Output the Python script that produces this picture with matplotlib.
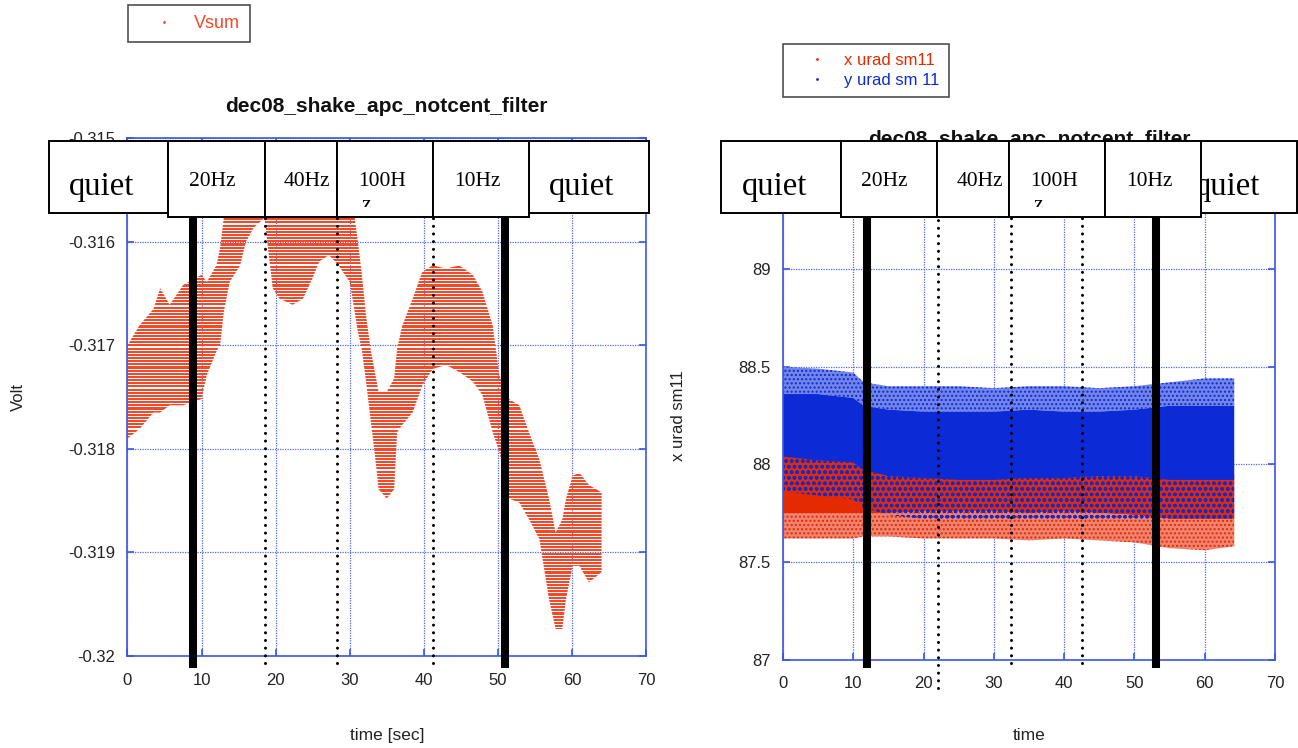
import numpy as np
import matplotlib
matplotlib.use("Agg")
import matplotlib.pyplot as plt
from matplotlib.patches import Rectangle, Polygon
from matplotlib.lines import Line2D
from matplotlib.colors import to_rgba
import matplotlib.transforms as mtransforms

# ---------------- data ----------------
title = "dec08_shake_apc_notcent_filter"

# left panel: Vsum band (upper / lower edge of the dense quantised band)
t_vsum = [0.0, 1.6, 3.5, 4.4, 5.7, 7.5, 10.0, 10.7, 12.0, 12.5, 13.0, 13.8, 15.2, 16.0,
          17.0, 18.5, 19.6, 20.5, 22.3, 23.7, 25.0, 25.9, 27.2, 28.5, 30.0, 31.1, 31.6,
          32.2, 32.8, 33.4, 33.9, 35.0, 36.0, 36.4, 37.1, 38.5, 39.8, 41.2, 43.0, 44.8,
          46.6, 47.9, 49.3, 50.2, 51.5, 52.9, 54.2, 55.6, 56.9, 57.8, 58.7, 59.2, 60.1,
          61.0, 62.3, 64.0]
vsum_upper = [-0.31700, -0.31681, -0.31665, -0.31645, -0.31661, -0.31642, -0.31632,
              -0.31639, -0.31623, -0.31606, -0.31577, -0.31540, -0.31540, -0.31540,
              -0.31540, -0.31540, -0.31540, -0.31540, -0.31540, -0.31540, -0.31540,
              -0.31540, -0.31540, -0.31540, -0.31540, -0.31600, -0.31629, -0.31671,
              -0.31703, -0.31726, -0.31745, -0.31745, -0.31732, -0.31703, -0.31681,
              -0.31655, -0.31629, -0.31623, -0.31626, -0.31623, -0.31632, -0.31648,
              -0.31681, -0.31729, -0.31752, -0.31758, -0.31784, -0.31810, -0.31848,
              -0.31881, -0.31868, -0.31848, -0.31826, -0.31823, -0.31835, -0.31842]
vsum_lower = [-0.31790, -0.31781, -0.31765, -0.31765, -0.31758, -0.31758, -0.31752,
              -0.31729, -0.31706, -0.31700, -0.31668, -0.31639, -0.31623, -0.31600,
              -0.31587, -0.31577, -0.31645, -0.31655, -0.31661, -0.31655, -0.31635,
              -0.31619, -0.31613, -0.31623, -0.31639, -0.31687, -0.31703, -0.31735,
              -0.31771, -0.31806, -0.31839, -0.31848, -0.31839, -0.31784, -0.31777,
              -0.31765, -0.31739, -0.31723, -0.31719, -0.31726, -0.31735, -0.31748,
              -0.31784, -0.31803, -0.31848, -0.31852, -0.31868, -0.31887, -0.31945,
              -0.31974, -0.31974, -0.31945, -0.31913, -0.31913, -0.31929, -0.31919]
adc_step = 3.05e-5   # quantisation of the Vsum readings

# right panel: x / y urad sm11 bands
t_xy = [0, 5, 10, 11.5, 15, 20, 25, 30, 35, 40, 45, 50, 55, 60, 64.2]
y_sparse_hi = [88.50, 88.49, 88.47, 88.42, 88.40, 88.40, 88.40, 88.39, 88.40, 88.40, 88.39, 88.40, 88.42, 88.44, 88.44]
y_dense_hi = [88.36, 88.36, 88.34, 88.30, 88.28, 88.27, 88.27, 88.27, 88.28, 88.27, 88.27, 88.28, 88.30, 88.30, 88.30]
y_dense_lo = [88.04, 88.02, 88.01, 87.97, 87.94, 87.93, 87.92, 87.92, 87.93, 87.93, 87.94, 87.94, 87.92, 87.92, 87.92]
y_sparse_lo = [87.86, 87.84, 87.82, 87.78, 87.74, 87.72, 87.72, 87.72, 87.72, 87.72, 87.72, 87.72, 87.72, 87.72, 87.72]
x_dense_hi = [88.06, 88.05, 88.04, 88.00, 87.97, 87.96, 87.96, 87.96, 87.97, 87.96, 87.96, 87.96, 87.95, 87.95, 87.95]
x_dense_lo = [87.75, 87.75, 87.75, 87.75, 87.75, 87.76, 87.76, 87.76, 87.75, 87.76, 87.75, 87.74, 87.72, 87.72, 87.72]
x_sparse_lo = [87.62, 87.62, 87.62, 87.63, 87.63, 87.62, 87.62, 87.62, 87.61, 87.62, 87.61, 87.60, 87.57, 87.56, 87.58]

xticks = [0, 10, 20, 30, 40, 50, 60, 70]
xtick_labels = ["0", "10", "20", "30", "40", "50", "60", "70"]
yticksL = [-0.320, -0.319, -0.318, -0.317, -0.316, -0.315]
ytick_labelsL = ["-0.32", "-0.319", "-0.318", "-0.317", "-0.316", "-0.315"]
yticksR = [87.0, 87.5, 88.0, 88.5, 89.0, 89.5]
ytick_labelsR = ["87", "87.5", "88", "88.5", "89", ""]   # 89.5 hidden under the boxes

# marker lines (time of the shaker changes)
thick_L = [8.88, 50.95]
dotted_L = [18.56, 28.3, 41.2]
thick_R = [11.9, 53.0]
dotted_R = [22.0, 32.4, 42.6]

# ---------------- styling ----------------
W, H = 1298, 748
RED_L = "#f04a2a"
RED_R = "#e42a00"
BLUE_R = "#0c2bd6"
RED_TINT = "#f08470"
BLUE_TINT = "#7385e8"
AXBLUE = "#3a56e8"
GRIDBLUE = "#5068f0"
TXT = "#222222"

plt.rcParams["font.family"] = ["Liberation Sans", "DejaVu Sans"]

fig = plt.figure(figsize=(W / 100, H / 100), dpi=100)


def fx(px):
    return px / W


def fy(py):
    return 1 - py / H


axL = fig.add_axes([fx(127.5), fy(656), (646 - 127.5) / W, (656 - 138) / H])
axR = fig.add_axes([fx(783), fy(659.5), (1275 - 783) / W, (659.5 - 171.5) / H])

for ax in (axL, axR):
    for s in ax.spines.values():
        s.set_color(AXBLUE)
        s.set_linewidth(1.2)
    ax.tick_params(direction="in", top=True, right=True, length=5, width=1.2,
                   color=AXBLUE, labelsize=12, labelcolor=TXT, pad=9)
    ax.tick_params(axis="x", pad=12)
    ax.grid(True, color=GRIDBLUE, linestyle=(0, (1, 1)), linewidth=0.9)
    ax.set_axisbelow(True)
    ax.set_xlim(0, 70)
    ax.set_xticks(xticks, xtick_labels)
    ax.set_title(title, fontsize=15, fontweight="bold", pad=19, color="#111111")

# ---- left panel
ylimL = (-0.320, -0.315)
axL.set_ylim(*ylimL)
axL.set_yticks(yticksL, ytick_labelsL)
tv = np.asarray(t_vsum)
band = Polygon(np.column_stack([np.r_[tv, tv[::-1]],
                                np.r_[vsum_upper, vsum_lower[::-1]]]),
               closed=True, facecolor="none", edgecolor="none")
axL.add_patch(band)
# quantised readings -> red level lines with thin gaps, one image row per screen pixel
n_rows = 518
row_val = np.linspace(ylimL[0], ylimL[1], n_rows)
phase = ((row_val - ylimL[0]) / adc_step) % 1.0
tex = np.zeros((n_rows, 1, 4))
tex[:, 0, :] = to_rgba(RED_L)
tex[phase > 0.66, 0, 3] = 0.0
img = axL.imshow(tex, origin="lower", extent=(0, 70, ylimL[0], ylimL[1]),
                 aspect="auto", interpolation="nearest", zorder=2)
img.set_clip_path(band)
axL.set_xlim(0, 70)
axL.set_ylim(*ylimL)
axL.set_ylabel("Volt", fontsize=12, color=TXT)
axL.yaxis.set_label_coords(-0.195, 0.5)
axL.set_xlabel("time [sec]", fontsize=12.5, color=TXT)
axL.xaxis.set_label_coords(0.5, -0.139)
axL.legend(handles=[Line2D([], [], ls="none", marker=".", ms=2, color=RED_L)],
           labels=["Vsum"], loc="upper left", bbox_to_anchor=(fx(128), fy(5)),
           bbox_transform=fig.transFigure, frameon=True, fancybox=False,
           edgecolor="#222222", borderpad=0.55, handlelength=2.9, handletextpad=0.2,
           labelcolor="linecolor", fontsize=13, borderaxespad=0).get_frame().set_linewidth(1.2)

# ---- right panel
axR.set_ylim(87.0, 89.5)
axR.set_yticks(yticksR, ytick_labelsR)
# y: upper fringe, x: lower fringe
axR.fill_between(t_xy, y_dense_hi, y_sparse_hi, facecolor=BLUE_TINT, edgecolor=BLUE_R,
                 hatch="....", linewidth=0)
axR.fill_between(t_xy, x_sparse_lo, x_dense_lo, facecolor=RED_TINT, edgecolor=RED_R,
                 hatch="....", linewidth=0)
# x dense band
axR.fill_between(t_xy, x_dense_lo, x_dense_hi, facecolor=RED_R, linewidth=0)
# y lower fringe: blue specks over the red band
axR.fill_between(t_xy, y_sparse_lo, y_dense_lo, facecolor="none", edgecolor=BLUE_R,
                 hatch="ooo", linewidth=0)
# y dense band
axR.fill_between(t_xy, y_dense_lo, y_dense_hi, facecolor=BLUE_R, linewidth=0)
axR.set_ylabel("x urad sm11", fontsize=12, color=TXT)
axR.yaxis.set_label_coords(-0.197, 0.5)
axR.set_xlabel("time", fontsize=12.5, color=TXT)
axR.xaxis.set_label_coords(0.5, -0.14)
axR.legend(handles=[Line2D([], [], ls="none", marker=".", ms=2, color=RED_R),
                    Line2D([], [], ls="none", marker=".", ms=2, color=BLUE_R)],
           labels=["x urad sm11", "y urad sm 11"], loc="upper left",
           bbox_to_anchor=(fx(783), fy(44)), bbox_transform=fig.transFigure,
           frameon=True, fancybox=False, edgecolor="#222222", borderpad=0.55,
           handlelength=3.0, handletextpad=0.14, labelspacing=0.3,
           labelcolor="linecolor", fontsize=12, borderaxespad=0).get_frame().set_linewidth(1.2)

# ---- vertical marker lines (overlay)
for ax, thick, dotted, bot_thick, bot_dot in ((axL, thick_L, dotted_L, 668, [663, 663, 663]),
                                              (axR, thick_R, dotted_R, 668, [688, 663, 663])):
    tr = mtransforms.blended_transform_factory(ax.transData, fig.transFigure)
    for x in thick:
        ax.plot([x, x], [fy(bot_thick), fy(200)], transform=tr, color="black", lw=5.8,
                solid_capstyle="butt", clip_on=False, zorder=4)
    for x, b in zip(dotted, bot_dot):
        ax.plot([x, x], [fy(b), fy(200)], transform=tr, color="black", lw=2.2,
                linestyle=(0, (0.01, 2.5)), dash_capstyle="round", clip_on=False, zorder=4)

# ---- annotation boxes (figure overlay)
SERIF = ["Liberation Serif", "DejaVu Serif"]


def box(x0, x1, y0, y1, z):
    r = Rectangle((fx(x0), fy(y1)), (x1 - x0) / W, (y1 - y0) / H, transform=fig.transFigure,
                  facecolor="white", edgecolor="black", linewidth=1.4, zorder=z)
    fig.add_artist(r)
    return r


def label(x, base, s, fs, z, clip=None):
    t = fig.text(fx(x), fy(base), s, fontsize=fs, family=SERIF, ha="left", va="baseline",
                 color="black", zorder=z)
    if clip is not None:
        t.set_clip_path(clip)
    return t


rows = [
    dict(quiet=[(49, 168, 69), (529, 649, 549)],
         hz=[(168, 265, 189, "20Hz"), (265, 337, 284, "40Hz"), (337, 433, 358, "100H"),
             (433, 529, 454, "10Hz")]),
    dict(quiet=[(721, 841, 742), (1175, 1297, 1195)],
         hz=[(841, 937, 861, "20Hz"), (937, 1009, 957, "40Hz"), (1009, 1105, 1030, "100H"),
             (1105, 1201, 1126, "10Hz")]),
]
for row in rows:
    for (x0, x1, tx) in row["quiet"]:
        r = box(x0, x1, 140.5, 212.5, 5)
        label(tx, 195, "quiet", 23.5, 5.1, clip=r)
    for (x0, x1, tx, s) in row["hz"]:
        box(x0, x1, 140.5, 216.5, 6)
        label(tx, 186, s, 15.5, 6.1)
        if s == "100H":
            clip = Rectangle((fx(x0), fy(207)), (x1 - x0) / W, (207 - 141) / H,
                             transform=fig.transFigure)
            label(tx + 3, 210, "z", 15.5, 6.1, clip=clip)

fig.savefig("out.png", dpi=100)
